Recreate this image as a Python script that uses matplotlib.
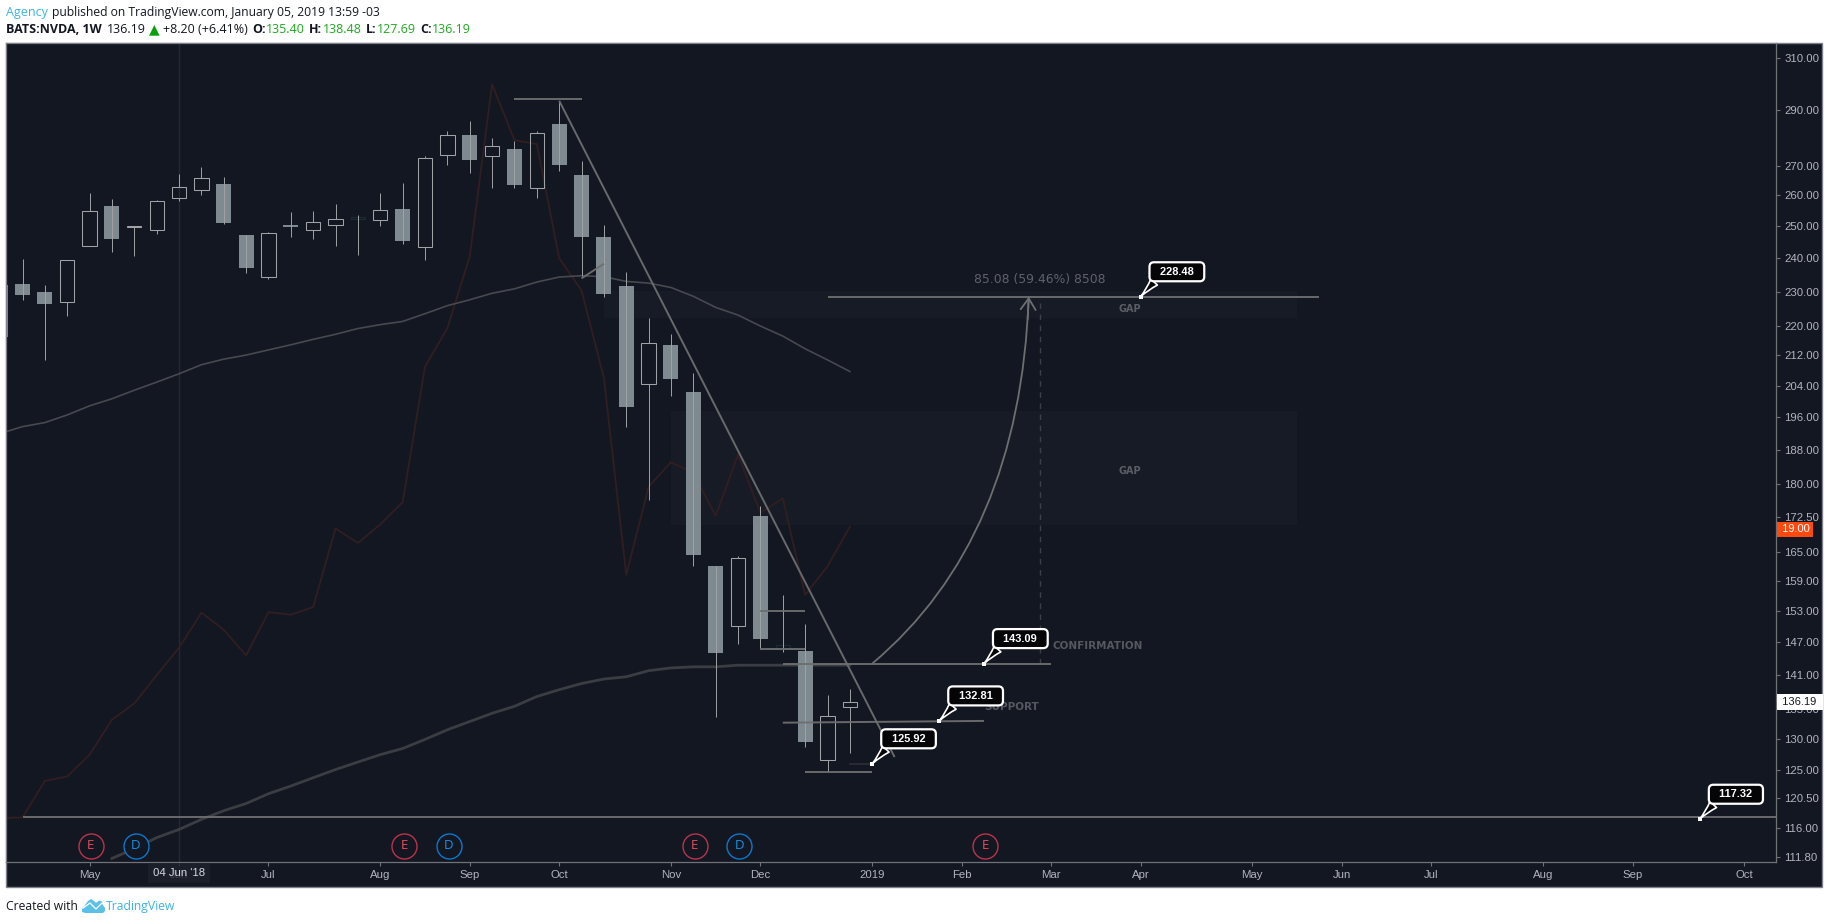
#weekly NVDA candles with drawn trendlines, tradingview dark style
import matplotlib
matplotlib.use('Agg')
import matplotlib.pyplot as plt
from matplotlib.lines import Line2D
from matplotlib.path import Path
from matplotlib.patches import PathPatch, Rectangle, Polygon
from matplotlib.ticker import FixedLocator, FixedFormatter, NullLocator

#DATA
#bar index -1 is the candle cut off by the left edge, index 7 is 04 Jun '18
bars = list(range(-1, 38))
opens = [231.9, 232.2, 229.9, 227.1, 243.7, 256.5, 249.8, 248.9, 259.2, 261.9, 263.9, 247.3, 234.4, 250.3, 248.7, 250.3,
         252.4, 251.9, 255.4, 243.3, 273.8, 280.8, 273.4, 276.0, 262.6, 284.9, 267.0, 246.6, 231.7, 204.4, 214.8, 202.4,
         162.1, 150.1, 172.8, 145.8, 145.5, 126.5, 135.40]
highs = [231.9, 239.8, 231.9, 239.4, 260.8, 258.8, 250.1, 258.4, 267.3, 269.7, 266.2, 247.3, 248.1, 254.6, 254.9, 257.2,
         253.6, 260.8, 264.2, 273.5, 282.2, 285.9, 279.7, 278.8, 282.2, 293.4, 271.8, 250.4, 235.8, 222.4, 217.9, 207.3,
         162.1, 164.2, 175.0, 156.2, 150.5, 137.5, 138.48]
lows = [217.0, 227.4, 210.8, 222.8, 243.7, 242.0, 240.7, 247.4, 258.3, 260.2, 250.8, 235.6, 233.8, 246.7, 245.8, 243.8,
        241.0, 250.1, 244.3, 239.3, 270.2, 267.7, 262.6, 262.6, 259.2, 268.1, 234.7, 228.3, 193.6, 176.4, 201.4, 162.0,
        133.6, 146.8, 145.8, 145.2, 128.7, 124.6, 127.69]
closes = [217.0, 228.9, 226.5, 239.4, 254.8, 246.0, 250.1, 258.1, 262.7, 265.8, 251.1, 237.1, 247.8, 249.9, 251.3, 252.2,
          252.8, 255.1, 245.2, 272.7, 281.0, 272.1, 276.9, 263.6, 281.4, 270.2, 246.7, 229.4, 198.4, 215.3, 205.8, 164.4,
          145.1, 163.7, 147.7, 146.6, 129.5, 133.8, 136.19]
faint_bars = [15, 34] #these two have a nearly invisible body

ma_upper = [191.9, 193.6, 194.6, 196.5, 198.8, 200.6, 202.8, 204.9, 207.1, 209.5, 211.0, 212.1, 213.5, 214.9, 216.4, 217.8,
            219.4, 220.5, 221.4, 223.6, 225.9, 227.6, 229.5, 230.8, 232.8, 234.3, 234.7, 234.4, 233.0, 232.5, 231.2, 228.6,
            225.4, 223.2, 220.1, 217.3, 213.8, 210.8, 207.7]
ma_red = [117.5, 117.6, 123.2, 123.9, 127.4, 133.2, 136.0, 141.0, 146.0, 152.7, 149.4, 144.6, 152.8, 152.3, 153.8, 170.0,
          166.9, 170.9, 175.8, 209.0, 219.5, 240.5, 299.6, 279.0, 277.6, 240.0, 230.3, 206.0, 160.2, 179.3, 185.0, 182.5,
          172.8, 186.8, 173.4, 176.7, 156.2, 162.0, 170.4]
ma_lower_bars = list(range(4, 38))
ma_lower = [111.6, 113.0, 114.6, 115.8, 117.3, 118.6, 119.7, 121.2, 122.4, 123.7, 125.0, 126.2, 127.4, 128.4, 129.9, 131.5,
            132.9, 134.3, 135.5, 137.2, 138.4, 139.5, 140.3, 140.7, 141.8, 142.3, 142.5, 142.5, 142.8, 142.8, 142.8, 142.8,
            142.8, 142.8]

price_ticks = [310, 290, 270, 260, 250, 240, 230, 220, 212, 204, 196, 188, 180, 172.5, 165, 159, 153, 147, 141, 135, 130, 125, 120.5, 116, 111.8]
month_ticks = [3, 7, 11, 16, 20, 24, 29, 33, 38, 42, 46, 50, 55, 59, 63, 68, 72, 77]
month_labels = ['May', 'Jun', 'Jul', 'Aug', 'Sep', 'Oct', 'Nov', 'Dec', '2019', 'Feb', 'Mar', 'Apr', 'May', 'Jun', 'Jul', 'Aug', 'Sep', 'Oct']

earnings_bars = [3, 17, 30, 43]
dividend_bars = [5, 19, 32]
event_price = 113.4

#(start bar, end bar, start price, end price)
drawn_lines = [(22, 25, 294.2, 294.2), (24, 39, 293.4, 127.0), (25, 26, 233.9, 238.3), (36, 58, 228.48, 228.48),
               (34, 46, 143.09, 143.09), (34, 43, 132.7, 133.0), (35, 38, 124.6, 124.6), (0, 78.4, 117.6, 117.6),
               (33, 35, 153.1, 153.1), (33, 35, 145.8, 145.8)]
#(start bar, end bar, low price, high price)
gap_zones = [(26, 57, 222.3, 230.3), (29, 57, 170.7, 197.5)]
gap_label_prices = [224.8, 183.0]
#(bar, price, text)
callouts = [(50, 228.48, '228.48'), (43, 143.09, '143.09'), (41, 133.0, '132.81'), (38, 125.92, '125.92'), (75, 117.32, '117.32')]
curve_points = [(38, 143.09), (44.6, 167.6), (45, 228.48)]

W, H = 1828, 924
BG = '#131722'
FRAME = '#7d8086'
AXIS = '#6f7277'
TICKTXT = '#b2b5be'
LINE = '#6c6e6f'
BODY = '#7f8a90'
WICK = '#a0a3a6'
BLUE = '#3bb3e4'
GREEN = '#1fa71f'

def px(x, y):
    return x / W, 1 - y / H

fig = plt.figure(figsize=(W / 100, H / 100), dpi=100, facecolor='white')
x0, y1 = px(6, 862.3)
x1, y0 = px(1776.3, 43.3)
fig.add_artist(Rectangle(px(6, 887.3), (1821.7 - 6) / W, (887.3 - 43.3) / H, transform=fig.transFigure,
                         fc=BG, ec=FRAME, lw=1.0, zorder=-1))
ax = fig.add_axes([x0, y1, x1 - x0, y0 - y1], facecolor=BG)

ax.set_yscale('log')
ax.set_ylim(111.05, 315.7)
ax.set_xlim(-0.738, 78.43)

#gap boxes go under everything
for (start, end, low, high), label_price in zip(gap_zones, gap_label_prices):
    ax.fill_between([start, end], low, high, color='#171b26', lw=0, zorder=0.5)
    ax.text(49.53, label_price, 'GAP', color='#5a5d63', fontsize=7, fontweight='bold', ha='center', va='center',
            family='DejaVu Sans', zorder=1)

#crosshair
ax.axvline(7, color='#252933', lw=1, zorder=0.6)

#indicators
ax.plot(bars, ma_red, color='#311e21', lw=1.3, zorder=1.5)
ax.plot(bars, ma_upper, color='#47494e', lw=1.2, zorder=1.6)
ax.plot(ma_lower_bars, ma_lower, color='#3a3d42', lw=2.0, zorder=1.6)

#candles
for i, o, h, l, c in zip(bars, opens, highs, lows, closes):
    top, bot = max(o, c), min(o, c)
    if i in faint_bars:
        ax.bar(i, top - bot, bottom=bot, width=0.64, facecolor='none', edgecolor='#1c2a32', lw=0.8, zorder=2)
        ax.vlines(i, l, h, color=WICK, lw=0.7, zorder=3)
    elif c < o:
        ax.bar(i, top - bot, bottom=bot, width=0.67, color=BODY, lw=0, zorder=2)
        ax.vlines(i, l, h, color=WICK, lw=0.7, zorder=3)
    else:
        ax.bar(i, top - bot, bottom=bot, width=0.64, facecolor='none', edgecolor=WICK, lw=0.75, zorder=2)
        ax.vlines([i, i], [l, top], [bot, h], color=WICK, lw=0.7, zorder=3)

#drawings
for x_a, x_b, p_a, p_b in drawn_lines:
    ax.plot([x_a, x_b], [p_a, p_b], color=LINE, lw=1.4, alpha=0.95, solid_capstyle='butt', zorder=4)
ax.plot([37, 38], [125.92, 125.92], color='#2b2e35', lw=1.3, zorder=4)

#projected move
ax.add_patch(PathPatch(Path(curve_points, [Path.MOVETO, Path.CURVE3, Path.CURVE3]), fc='none', ec=LINE, lw=1.3, zorder=4))
ax.annotate('', xy=curve_points[2], xytext=(44.95, 222), zorder=4,
            arrowprops=dict(arrowstyle='->,head_length=0.45,head_width=0.3', color=LINE, lw=1.3, shrinkA=0, shrinkB=0, mutation_scale=18))
ax.plot([45.5, 45.5], [143.09, 228.48], color='#3c3f45', lw=1, ls=(0, (4, 4)), zorder=3.5)
ax.text(45.5, 233.6, '85.08 (59.46%) 8508', color='#5f6269', fontsize=8.9, ha='center', va='center', family='DejaVu Sans')
ax.text(46.04, 146.3, 'CONFIRMATION', color='#55585e', fontsize=7.5, fontweight='bold', ha='left', va='center', family='DejaVu Sans', zorder=4)
ax.text(43.0, 135.4, 'SUPPORT', color='#55585e', fontsize=7.5, fontweight='bold', ha='left', va='center', family='DejaVu Sans', zorder=4)

#price bubbles
for bar, price, label in callouts:
    ax.annotate(f'  {label}  ', xy=(bar, price), xytext=(36.3, 25), textcoords='offset pixels', ha='center', va='center',
                color='white', fontweight='bold', family='Liberation Sans', fontsize=7.9, zorder=6,
                bbox=dict(boxstyle='round,pad=0.41', fc='#050507', ec='white', lw=1.6),
                arrowprops=dict(arrowstyle='wedge,tail_width=0.8,shrink_factor=0.35', fc='#050507', ec='white', lw=1.2,
                                relpos=(0.15, 0.2), shrinkA=0, shrinkB=0, mutation_scale=8))
    ax.plot(bar, price, 's', ms=2.6, color='white', mew=0, zorder=7)

#earnings and dividend flags
for bars_list, letter, edge, txt in [(earnings_bars, 'E', '#c5344d', '#ee4a60'), (dividend_bars, 'D', '#0a7dd6', '#1192ee')]:
    for bar in bars_list:
        ax.plot(bar + 0.06, event_price, 'o', ms=18, mfc=BG, mec=edge, mew=1.0, zorder=5, alpha=0.95)
        ax.text(bar + 0.06, event_price, letter, color=txt, fontsize=9.5, ha='center', va='center', family='Open Sans', zorder=5.5)

#axes
ax.yaxis.tick_right()
ax.yaxis.set_major_locator(FixedLocator(price_ticks))
ax.yaxis.set_major_formatter(FixedFormatter([f'{p:.2f}' for p in price_ticks]))
ax.yaxis.set_minor_locator(NullLocator())
ax.xaxis.set_major_locator(FixedLocator(month_ticks))
ax.xaxis.set_major_formatter(FixedFormatter(month_labels))
ax.tick_params(axis='both', colors=AXIS, labelcolor=TICKTXT, length=2.9, width=0.8, labelsize=8.2, pad=2.8)
for lab in ax.get_xticklabels() + ax.get_yticklabels():
    lab.set_family('Liberation Sans')
for side in ['left', 'top']:
    ax.spines[side].set_color(FRAME)
for side in ['right', 'bottom']:
    ax.spines[side].set_color(AXIS)
for sp in ax.spines.values():
    sp.set_linewidth(0.9)

#last price tags on the scale
tags = ax.get_yaxis_transform()
ax.text(1.0018, 136.19, ' 136.19 ', transform=tags, ha='left', va='center', color='#131722', fontsize=8.0, family='Liberation Sans',
        bbox=dict(boxstyle='square,pad=0.26', fc='white', ec='none'), zorder=8, clip_on=False)
ax.text(1.0018, 169.8, ' 19.00', transform=tags, ha='left', va='center', color='white', fontsize=8.0, family='Liberation Sans',
        bbox=dict(boxstyle='square,pad=0.26', fc='#ff4a0f', ec='none'), zorder=8, clip_on=False)

#crosshair date tag
ax.text(7, -0.013, "04 Jun '18", transform=ax.get_xaxis_transform(), ha='center', va='center', color='#d6d8dd', fontsize=8.2,
        family='Liberation Sans', bbox=dict(boxstyle='square,pad=0.45', fc=(0.118, 0.133, 0.176, 0.8), ec='none'), zorder=8, clip_on=False)

#header
def head(x, y, s, color='#131722', weight='normal', size=9.0):
    fx, fy = px(x, y)
    fig.text(fx, fy, s, color=color, fontweight=weight, fontsize=size, family='Open Sans', ha='left', va='center')

head(6, 12.7, 'Agency', BLUE)
head(52, 12.7, 'published on TradingView.com, January 05, 2019 13:59 -03', size=8.7)
head(6, 29.3, 'BATS:NVDA, 1W', weight='bold')
head(107, 29.3, f'{closes[-1]:.2f}')
fx, fy = px(154.7, 29)
fig.text(fx, fy, '\u25b2', color='#0aa00a', fontsize=10, family='DejaVu Sans', ha='center', va='center')
head(162.8, 29.3, '+8.20 (+6.41%)')
for x_l, x_v, name, val in [(252, 266, 'O:', opens[-1]), (309, 323, 'H:', highs[-1]), (366, 377, 'L:', lows[-1]), (420, 432, 'C:', closes[-1])]:
    head(x_l, 29.3, name, weight='bold')
    head(x_v, 29.3, f'{val:.2f}', GREEN)

#footer
head(6, 906.7, 'Created with', size=8.7)
head(106, 906.7, 'TradingView', BLUE, size=8.7)
logo = [(82, 909), (85, 905), (88, 901), (91, 899), (94, 901), (96, 903), (99, 900.5), (102, 901.5), (103, 905), (105, 908),
        (105, 911), (103, 913), (85, 913), (82, 912)]
fig.add_artist(Polygon([px(a, b) for a, b in logo], transform=fig.transFigure, fc='#5bc0e8', ec='none'))
zigzag = [px(a, b) for a, b in [(83, 908), (90, 903), (96, 909), (102, 903), (105, 906)]]
fig.add_artist(Line2D([p[0] for p in zigzag], [p[1] for p in zigzag], transform=fig.transFigure, color='white', lw=0.9))

fig.savefig('out.png', dpi=100, facecolor='white')
